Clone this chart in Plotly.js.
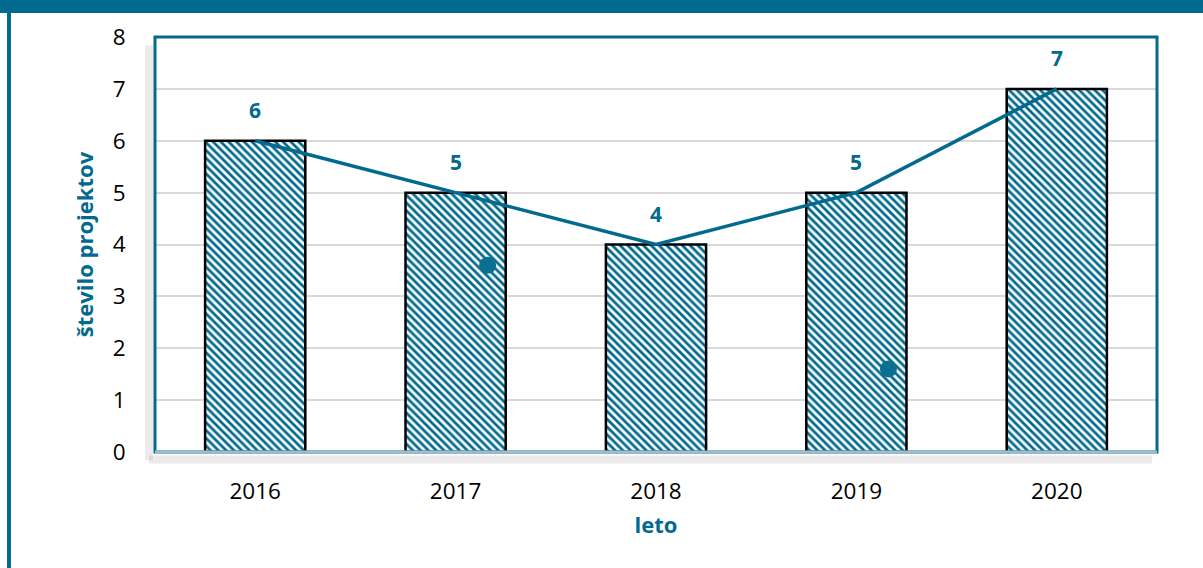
<!DOCTYPE html>
<html>
<head>
<meta charset="utf-8">
<script src="https://cdn.plot.ly/plotly-3.0.1.min.js"></script>
<style>
  html, body { margin: 0; padding: 0; background: #ffffff; overflow: hidden; }
  #wrap { position: relative; width: 1203px; height: 568px; }
  #chart { position: absolute; left: 0; top: 0; width: 1203px; height: 568px; }
  #topbar { position: absolute; left: 0; top: 0; width: 1203px; height: 13px; background: #026a8e; z-index: 5; }
  #leftbar { position: absolute; left: 7px; top: 0; width: 4px; height: 568px; background: #026a8e; z-index: 5; }
</style>
</head>
<body>
<div id="wrap">
  <div id="chart"></div>
  <div id="topbar"></div>
  <div id="leftbar"></div>
</div>
<script>
// ---- data ----
var years = [2016, 2017, 2018, 2019, 2020];
var projects = [6, 5, 4, 5, 7];
var strayDotX = [2017.16, 2019.16];
var strayDotY = [3.6, 1.6];
var yTicks = [0, 1, 2, 3, 4, 5, 6, 7, 8];
var xTickLabels = ['2016', '2017', '2018', '2019', '2020'];

var TEAL = '#026a8e';
var FONT = 'Open Sans, DejaVu Sans, sans-serif';

var bars = {
  type: 'bar',
  x: years,
  y: projects,
  width: 0.5,
  marker: {
    color: 'white',
    line: { color: '#000000', width: 2.5 },
    pattern: { shape: '\\', fgcolor: TEAL, bgcolor: '#ffffff', size: 5.5, solidity: 0.5, fillmode: 'replace' }
  },
  hoverinfo: 'skip',
  showlegend: false
};

var line = {
  type: 'scatter',
  mode: 'lines',
  x: years,
  y: projects,
  line: { color: TEAL, width: 3.5 },
  hoverinfo: 'skip',
  showlegend: false
};

var dots = {
  type: 'scatter',
  mode: 'markers',
  x: strayDotX,
  y: strayDotY,
  marker: { color: '#0b6f8f', size: 17 },
  hoverinfo: 'skip',
  showlegend: false
};

var labels = years.map(function (yr, i) {
  return {
    x: yr, y: projects[i], xref: 'x', yref: 'y',
    text: '<b>' + projects[i] + '</b>',
    showarrow: false, yanchor: 'bottom', yshift: 15,
    font: { family: FONT, size: 21, color: TEAL }
  };
});

var layout = {
  width: 1203,
  height: 568,
  margin: { l: 155, r: 46, t: 37, b: 116 },
  paper_bgcolor: 'rgba(0,0,0,0)',
  plot_bgcolor: '#ffffff',
  font: { family: FONT, color: '#000000' },
  xaxis: {
    range: [2015.5, 2020.5],
    tickvals: years,
    ticktext: xTickLabels,
    tickfont: { family: FONT, size: 22.5, color: '#000000' },
    ticks: 'outside', ticklen: 19, tickcolor: 'rgba(0,0,0,0)',
    showgrid: false, zeroline: false, showline: false,
    fixedrange: true,
    title: { text: '<b>leto</b>', font: { family: FONT, size: 22, color: TEAL }, standoff: 12 }
  },
  yaxis: {
    range: [0, 8],
    tickvals: yTicks,
    tickfont: { family: FONT, size: 22.5, color: '#000000' },
    ticks: 'outside', ticklen: 24, tickcolor: 'rgba(0,0,0,0)',
    showgrid: true, gridcolor: '#d9d9d9', gridwidth: 2,
    zeroline: false, showline: false,
    fixedrange: true,
    title: { text: '<b>število projektov</b>', font: { family: FONT, size: 22, color: TEAL }, standoff: 12 }
  },
  shapes: [
    // soft shadow outside the plot frame (left and bottom)
    { type: 'line', xref: 'paper', yref: 'paper', x0: -0.006, x1: -0.006, y0: -0.02, y1: 0.98,
      line: { color: 'rgba(0,0,0,0.08)', width: 8 }, layer: 'above' },
    { type: 'line', xref: 'paper', yref: 'paper', x0: -0.006, x1: 0.995, y0: -0.018, y1: -0.018,
      line: { color: 'rgba(0,0,0,0.08)', width: 8 }, layer: 'above' },
    { type: 'rect', xref: 'paper', yref: 'paper', x0: 0, x1: 1, y0: 0, y1: 1,
      line: { color: TEAL, width: 3 }, fillcolor: 'rgba(0,0,0,0)', layer: 'above' },
    { type: 'line', xref: 'paper', yref: 'paper', x0: 0, x1: 1, y0: 0, y1: 0,
      line: { color: '#9fbccb', width: 3 }, layer: 'above' }
  ],
  annotations: labels,
  bargap: 0.5
};

Plotly.newPlot('chart', [bars, line, dots], layout, { displayModeBar: false, staticPlot: true });
</script>
</body>
</html>
